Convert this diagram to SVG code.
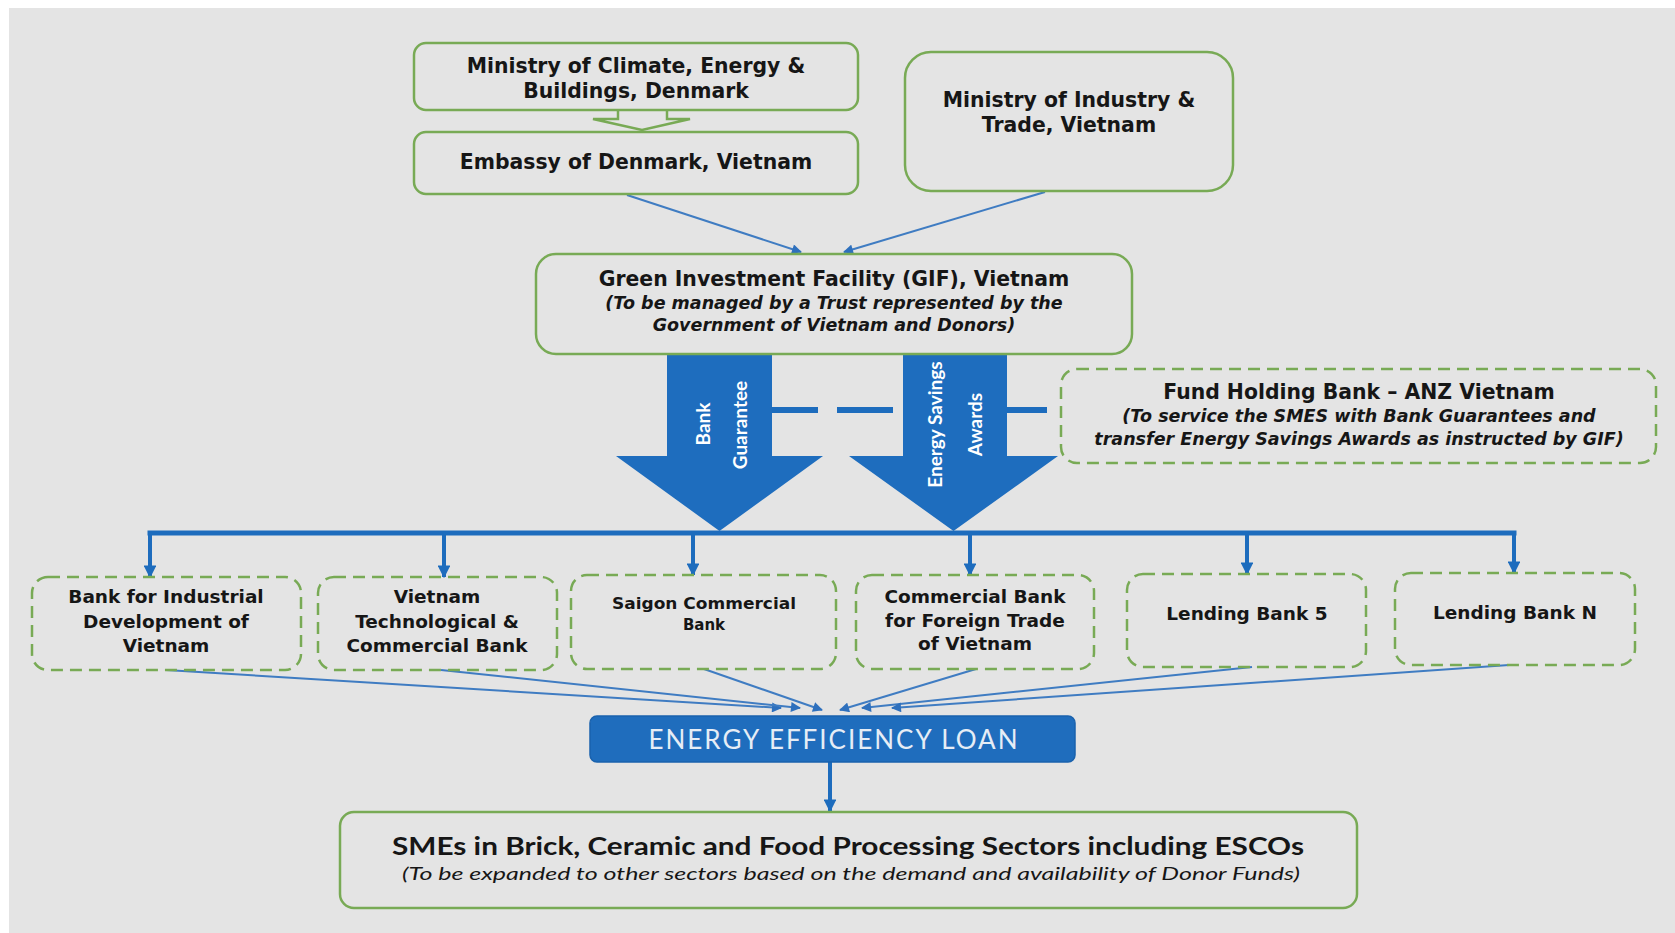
<svg xmlns="http://www.w3.org/2000/svg" width="1675" height="933" viewBox="0 0 1675 933">
  <style>
    .box { fill: none; stroke: #78aa55; stroke-width: 2.5; }
    .dash { fill: none; stroke: #78aa55; stroke-width: 2.5; stroke-dasharray: 12 7; }
    .t { font-family: "DejaVu Sans", "Liberation Sans", sans-serif; font-weight: bold; font-size: 20.4px; fill: #161616; text-anchor: middle; }
    .it { font-family: "DejaVu Sans", "Liberation Sans", sans-serif; font-weight: bold; font-style: italic; font-size: 17.5px; fill: #161616; text-anchor: middle; }
    .bk { font-family: "DejaVu Sans", "Liberation Sans", sans-serif; font-weight: bold; font-size: 18.5px; fill: #161616; text-anchor: middle; }
    .cal { font-family: Lato, "Liberation Sans", sans-serif; text-anchor: middle; }
    .aw { font-family: Lato, "Liberation Sans", sans-serif; font-weight: bold; font-size: 19px; fill: #ffffff; text-anchor: middle; }
    .thin { stroke: #3f7cc2; stroke-width: 2; fill: none; }
    .drop { stroke: #1d6cbd; stroke-width: 4; fill: none; }
    .blue { fill: #1e6dbe; }
  </style>
  <defs>
    <marker id="ah" viewBox="0 0 10 10" refX="9" refY="5" markerWidth="5.5" markerHeight="5" orient="auto" markerUnits="strokeWidth">
      <path d="M0,0 L10,5 L0,10 Z" fill="#2e70bd"/>
    </marker>
    <marker id="ahd" viewBox="0 0 10 10" refX="9" refY="5" markerWidth="3.2" markerHeight="3.2" orient="auto" markerUnits="strokeWidth">
      <path d="M0,0 L10,5 L0,10 Z" fill="#1d6cbd"/>
    </marker>
  </defs>

  <!-- page background -->
  <rect x="0" y="0" width="1675" height="933" fill="#ffffff"/>
  <rect x="9" y="8" width="1666" height="925" fill="#e4e4e4"/>

  <!-- connectors -->
  <g id="connectors">
    <!-- hollow arrow between the Danish ministry and the embassy -->
    <path d="M618,110 V119 H593 L642,130 L690,119 H667 V110" fill="#e4e4e4" stroke="#78aa55" stroke-width="2.5" stroke-linejoin="miter"/>
    <line class="thin" x1="627" y1="195" x2="801" y2="252" marker-end="url(#ah)"/>
    <line class="thin" x1="1045" y1="192" x2="844" y2="252" marker-end="url(#ah)"/>

    <!-- broad flow arrows out of GIF -->
    <path class="blue" d="M667,354 H772 V456 H823 L719.5,531 L616,456 H667 Z"/>
    <path class="blue" d="M903,354 H1007 V456 H1058 L953.5,531 L849,456 H903 Z"/>
    <text class="aw" transform="translate(710,424) rotate(-90)">Bank</text>
    <text class="aw" transform="translate(747,425) rotate(-90)">Guarantee</text>
    <text class="aw" transform="translate(942,424.5) rotate(-90)">Energy Savings</text>
    <text class="aw" transform="translate(982,424.5) rotate(-90)">Awards</text>

    <!-- dashed link to the fund holding bank -->
    <g stroke="#1d6cbd" stroke-width="6">
      <line x1="772" y1="410" x2="818" y2="410"/>
      <line x1="837" y1="410" x2="893" y2="410"/>
      <line x1="1007" y1="410" x2="1047" y2="410"/>
    </g>

    <!-- distribution bar to lending banks -->
    <line x1="147.5" y1="533" x2="1516.5" y2="533" stroke="#1d6cbd" stroke-width="5"/>
    <line class="drop" x1="150" y1="531" x2="150" y2="577" marker-end="url(#ahd)"/>
    <line class="drop" x1="444" y1="531" x2="444" y2="577" marker-end="url(#ahd)"/>
    <line class="drop" x1="693" y1="531" x2="693" y2="575" marker-end="url(#ahd)"/>
    <line class="drop" x1="970" y1="531" x2="970" y2="575" marker-end="url(#ahd)"/>
    <line class="drop" x1="1247" y1="531" x2="1247" y2="574" marker-end="url(#ahd)"/>
    <line class="drop" x1="1514" y1="531" x2="1514" y2="573" marker-end="url(#ahd)"/>

    <!-- banks converge on the loan product -->
    <line class="thin" x1="166" y1="670" x2="781" y2="708" marker-end="url(#ah)"/>
    <line class="thin" x1="441" y1="670" x2="800" y2="708" marker-end="url(#ah)"/>
    <line class="thin" x1="704" y1="669" x2="822" y2="710" marker-end="url(#ah)"/>
    <line class="thin" x1="976" y1="669" x2="840" y2="710" marker-end="url(#ah)"/>
    <line class="thin" x1="1252" y1="667" x2="862" y2="708" marker-end="url(#ah)"/>
    <line class="thin" x1="1509" y1="665" x2="892" y2="708" marker-end="url(#ah)"/>

    <line class="drop" x1="830" y1="762" x2="830" y2="811" marker-end="url(#ahd)"/>
  </g>

  <g id="ministry-denmark">
    <rect class="box" x="414" y="43" width="444" height="67" rx="12"/>
    <text class="t" x="636" y="73">Ministry of Climate, Energy &amp;</text>
    <text class="t" x="636" y="98">Buildings, Denmark</text>
  </g>

  <g id="embassy">
    <rect class="box" x="414" y="132" width="444" height="62" rx="12"/>
    <text class="t" x="636" y="169">Embassy of Denmark, Vietnam</text>
  </g>

  <g id="ministry-vietnam">
    <rect class="box" x="905" y="52" width="328" height="139" rx="26"/>
    <text class="t" x="1069" y="107">Ministry of Industry &amp;</text>
    <text class="t" x="1069" y="132">Trade, Vietnam</text>
  </g>

  <g id="gif">
    <rect class="box" x="536" y="254" width="596" height="100" rx="20"/>
    <text class="t" x="834" y="286">Green Investment Facility (GIF), Vietnam</text>
    <text class="it" x="834" y="309">(To be managed by a Trust represented by the</text>
    <text class="it" x="834" y="331">Government of Vietnam and Donors)</text>
  </g>

  <g id="fund-holding-bank">
    <rect class="dash" x="1061" y="369" width="595" height="94" rx="16"/>
    <text class="t" x="1359" y="399">Fund Holding Bank – ANZ Vietnam</text>
    <text class="it" x="1359" y="422">(To service the SMES with Bank Guarantees and</text>
    <text class="it" x="1359" y="445">transfer Energy Savings Awards as instructed by GIF)</text>
  </g>

  <g id="bank-bidv">
    <rect class="dash" x="32" y="577" width="269" height="93" rx="16"/>
    <text class="bk" x="166" y="603">Bank for Industrial</text>
    <text class="bk" x="166" y="628">Development of</text>
    <text class="bk" x="166" y="652">Vietnam</text>
  </g>

  <g id="bank-techcombank">
    <rect class="dash" x="318" y="577" width="239" height="93" rx="16"/>
    <text class="bk" x="437" y="603">Vietnam</text>
    <text class="bk" x="437" y="628">Technological &amp;</text>
    <text class="bk" x="437" y="652">Commercial Bank</text>
  </g>

  <g id="bank-saigon">
    <rect class="dash" x="571" y="575" width="265" height="94" rx="16"/>
    <text class="bk" x="704" y="609" style="font-size:15px" textLength="184" lengthAdjust="spacingAndGlyphs">Saigon Commercial</text>
    <text class="bk" x="704" y="630" style="font-size:15px">Bank</text>
  </g>

  <g id="bank-vietcombank">
    <rect class="dash" x="856" y="575" width="238" height="94" rx="16"/>
    <text class="bk" x="975" y="603">Commercial Bank</text>
    <text class="bk" x="975" y="627">for Foreign Trade</text>
    <text class="bk" x="975" y="650">of Vietnam</text>
  </g>

  <g id="bank-5">
    <rect class="dash" x="1127" y="574" width="239" height="93" rx="16"/>
    <text class="bk" x="1247" y="620">Lending Bank 5</text>
  </g>

  <g id="bank-n">
    <rect class="dash" x="1395" y="573" width="240" height="92" rx="16"/>
    <text class="bk" x="1515" y="619">Lending Bank N</text>
  </g>

  <g id="ee-loan">
    <rect x="590" y="716" width="485" height="46" rx="7" fill="#1f6dbd" stroke="#1a62ad" stroke-width="1.5"/>
    <text class="cal" x="833" y="749" style="font-size:26px; fill:#e6edf6" textLength="369" lengthAdjust="spacing">ENERGY EFFICIENCY LOAN</text>
  </g>

  <g id="smes">
    <rect class="box" x="340" y="812" width="1017" height="96" rx="14"/>
    <text class="cal" x="848" y="855" style="font-size:24px; font-weight:bold; fill:#161616" textLength="912" lengthAdjust="spacingAndGlyphs">SMEs in Brick, Ceramic and Food Processing Sectors including ESCOs</text>
    <text class="cal" x="851" y="880" style="font-size:18px; font-style:italic; fill:#161616" textLength="898" lengthAdjust="spacingAndGlyphs">(To be expanded to other sectors based on the demand and availability of Donor Funds)</text>
  </g>
</svg>
